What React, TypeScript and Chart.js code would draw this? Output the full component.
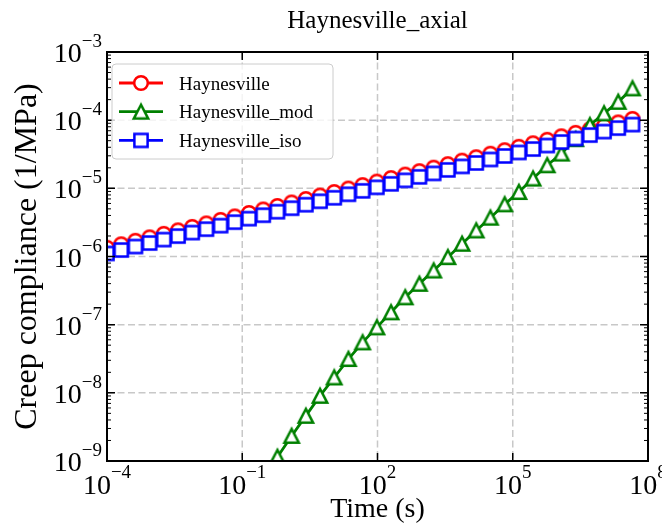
import React, { useEffect, useRef } from 'react';
import { Chart, registerables } from 'chart.js';

Chart.register(...registerables);

// ---------------- data ----------------
const times = [
  1e-4, 2.065e-4, 4.266e-4, 8.81e-4, 1.82e-3, 3.758e-3, 7.762e-3, 1.603e-2, 3.311e-2, 6.839e-2,
  0.1413, 0.2917, 0.6026, 1.245, 2.57, 5.309, 10.96, 22.65, 46.77, 96.6,
  199.5, 412.1, 851.1, 1758, 3631, 7499, 1.549e4, 3.199e4, 6.607e4, 1.365e5,
  2.818e5, 5.821e5, 1.202e6, 2.483e6, 5.129e6, 1.059e7, 2.188e7, 4.519e7,
];

const haynesville = [
  1.343e-6, 1.511e-6, 1.699e-6, 1.911e-6, 2.149e-6, 2.418e-6, 2.72e-6, 3.059e-6, 3.441e-6, 3.871e-6,
  4.355e-6, 4.898e-6, 5.51e-6, 6.198e-6, 6.972e-6, 7.843e-6, 8.823e-6, 9.924e-6, 1.116e-5, 1.256e-5,
  1.413e-5, 1.589e-5, 1.788e-5, 2.011e-5, 2.262e-5, 2.545e-5, 2.862e-5, 3.22e-5, 3.622e-5, 4.074e-5,
  4.581e-5, 5.153e-5, 5.798e-5, 6.521e-5, 7.335e-5, 8.251e-5, 9.281e-5, 1.044e-4,
];

const haynesvilleMod = [
  null, null, null, null, null, null, null, null, null, null,
  null, 5.53e-10, 1.148e-9, 2.333e-9, 4.592e-9, 9.036e-9, 1.679e-8, 3.133e-8, 5.495e-8, 9.12e-8,
  1.517e-7, 2.518e-7, 3.972e-7, 6.223e-7, 9.772e-7, 1.538e-6, 2.41e-6, 3.707e-6, 5.821e-6, 8.831e-6,
  1.39e-5, 2.178e-5, 3.236e-5, 5.25e-5, 8.43e-5, 1.256e-4, 1.858e-4, 2.924e-4,
];

const haynesvilleIso = [
  1.107e-6, 1.245e-6, 1.4e-6, 1.575e-6, 1.771e-6, 1.992e-6, 2.241e-6, 2.521e-6, 2.835e-6, 3.19e-6,
  3.589e-6, 4.036e-6, 4.54e-6, 5.107e-6, 5.745e-6, 6.463e-6, 7.27e-6, 8.177e-6, 9.196e-6, 1.035e-5,
  1.164e-5, 1.309e-5, 1.473e-5, 1.657e-5, 1.864e-5, 2.097e-5, 2.358e-5, 2.653e-5, 2.985e-5, 3.357e-5,
  3.775e-5, 4.246e-5, 4.778e-5, 5.373e-5, 6.044e-5, 6.799e-5, 7.648e-5, 8.603e-5,
];

const seriesNames = ['Haynesville', 'Haynesville_mod', 'Haynesville_iso'];
const seriesColors = ['#ff0000', '#008000', '#0000ff'];
const seriesShapes = ['circle', 'triangle', 'square'];

const xMajorTicks = [1e-4, 1e-1, 1e2, 1e5, 1e8];
const xTickExponents = ['\u22124', '\u22121', '2', '5', '8'];
const yMajorTicks = [1e-9, 1e-8, 1e-7, 1e-6, 1e-5, 1e-4, 1e-3];
const yTickExponents = ['\u22129', '\u22128', '\u22127', '\u22126', '\u22125', '\u22124', '\u22123'];
const yMinorMultipliers = [2, 3, 4, 5, 6, 7, 8, 9];

const chartTitle = 'Haynesville_axial';
const xTitle = 'Time (s)';
const yTitle = 'Creep compliance (1/MPa)';

const FONT = "'Liberation Serif', 'Times New Roman', serif";

// ---------------- markers ----------------
function makeMarker(shape: string, color: string): HTMLCanvasElement {
  const size = 24;
  const c = document.createElement('canvas');
  c.width = size;
  c.height = size;
  const g = c.getContext('2d') as CanvasRenderingContext2D;
  const m = size / 2;
  g.lineWidth = 2.5;
  g.strokeStyle = color;
  g.fillStyle = '#ffffff';
  g.beginPath();
  if (shape === 'circle') {
    g.arc(m, m, 6.8, 0, Math.PI * 2);
  } else if (shape === 'square') {
    g.rect(m - 6.6, m - 6.6, 13.2, 13.2);
  } else {
    g.moveTo(m, m - 7);
    g.lineTo(m - 7.2, m + 6.8);
    g.lineTo(m + 7.2, m + 6.8);
    g.closePath();
  }
  g.fill();
  g.stroke();
  return c;
}

export default function App() {
  const ref = useRef<HTMLCanvasElement | null>(null);

  useEffect(() => {
    document.body.style.margin = '0';
    const canvas = ref.current;
    if (!canvas) return;

    const markers = seriesShapes.map((s, i) => makeMarker(s, seriesColors[i]));
    const allSeries = [haynesville, haynesvilleMod, haynesvilleIso];

    const decor = {
      id: 'decor',
      beforeDatasetsDraw(chart: any) {
        const { ctx, chartArea: a, scales } = chart;
        const xs = scales.x;
        const ys = scales.y;
        ctx.save();
        ctx.strokeStyle = '#c8c8c8';
        ctx.lineWidth = 1.5;
        ctx.setLineDash([7, 3.5]);
        for (const v of xMajorTicks) {
          const px = xs.getPixelForValue(v);
          if (px > a.left + 2 && px < a.right - 2) {
            ctx.beginPath();
            ctx.moveTo(px, a.top);
            ctx.lineTo(px, a.bottom);
            ctx.stroke();
          }
        }
        for (const v of yMajorTicks) {
          const py = ys.getPixelForValue(v);
          if (py > a.top + 2 && py < a.bottom - 2) {
            ctx.beginPath();
            ctx.moveTo(a.left, py);
            ctx.lineTo(a.right, py);
            ctx.stroke();
          }
        }
        ctx.restore();
      },
      afterDatasetsDraw(chart: any) {
        const { ctx, chartArea: a, scales } = chart;
        const xs = scales.x;
        const ys = scales.y;
        ctx.save();
        ctx.setLineDash([]);

        // ticks (inward, all sides)
        ctx.strokeStyle = '#000';
        ctx.lineWidth = 1.5;
        for (const v of xMajorTicks) {
          const px = xs.getPixelForValue(v);
          ctx.beginPath();
          ctx.moveTo(px, a.bottom);
          ctx.lineTo(px, a.bottom - 8);
          ctx.moveTo(px, a.top);
          ctx.lineTo(px, a.top + 8);
          ctx.stroke();
        }
        for (const v of yMajorTicks) {
          const py = ys.getPixelForValue(v);
          ctx.beginPath();
          ctx.moveTo(a.left, py);
          ctx.lineTo(a.left + 8, py);
          ctx.moveTo(a.right, py);
          ctx.lineTo(a.right - 8, py);
          ctx.stroke();
        }
        ctx.lineWidth = 1;
        for (let i = 0; i < yMajorTicks.length - 1; i++) {
          for (const k of yMinorMultipliers) {
            const py = ys.getPixelForValue(yMajorTicks[i] * k);
            ctx.beginPath();
            ctx.moveTo(a.left, py);
            ctx.lineTo(a.left + 4, py);
            ctx.moveTo(a.right, py);
            ctx.lineTo(a.right - 4, py);
            ctx.stroke();
          }
        }

        // frame
        ctx.lineWidth = 2;
        ctx.strokeRect(a.left, a.top, a.right - a.left, a.bottom - a.top);

        // tick labels
        ctx.fillStyle = '#000';
        const bigFont = `28px ${FONT}`;
        const supFont = `19px ${FONT}`;
        ctx.textBaseline = 'alphabetic';
        ctx.textAlign = 'left';
        xMajorTicks.forEach((v, i) => {
          const px = xs.getPixelForValue(v);
          ctx.font = bigFont;
          const w1 = ctx.measureText('10').width;
          ctx.font = supFont;
          const w2 = ctx.measureText(xTickExponents[i]).width;
          const start = px - (w1 + w2) / 2;
          ctx.font = bigFont;
          ctx.fillText('10', start, a.bottom + 33);
          ctx.font = supFont;
          ctx.fillText(xTickExponents[i], start + w1, a.bottom + 17);
        });
        yMajorTicks.forEach((v, i) => {
          const py = ys.getPixelForValue(v);
          ctx.font = bigFont;
          const w1 = ctx.measureText('10').width;
          ctx.font = supFont;
          const w2 = ctx.measureText(yTickExponents[i]).width;
          const end = a.left - 5;
          ctx.font = bigFont;
          ctx.fillText('10', end - w2 - w1, py + 10);
          ctx.font = supFont;
          ctx.fillText(yTickExponents[i], end - w2, py - 5);
        });

        // titles
        const cx = (a.left + a.right) / 2;
        ctx.textAlign = 'center';
        ctx.font = `25px ${FONT}`;
        ctx.fillText(chartTitle, cx, 28);
        ctx.font = `28px ${FONT}`;
        ctx.fillText(xTitle, cx, 517);
        ctx.save();
        ctx.font = `32px ${FONT}`;
        ctx.translate(36, (a.top + a.bottom) / 2);
        ctx.rotate(-Math.PI / 2);
        ctx.fillText(yTitle, 0, 0);
        ctx.restore();

        // legend
        const lx = 112, ly = 64, lw = 221, lh = 95;
        ctx.beginPath();
        if (ctx.roundRect) ctx.roundRect(lx, ly, lw, lh, 4);
        else ctx.rect(lx, ly, lw, lh);
        ctx.fillStyle = 'rgba(255,255,255,0.8)';
        ctx.fill();
        ctx.strokeStyle = '#cccccc';
        ctx.lineWidth = 1;
        ctx.stroke();
        ctx.textAlign = 'left';
        ctx.font = `19px ${FONT}`;
        seriesNames.forEach((name, i) => {
          const ry = 83 + i * 28.7;
          ctx.strokeStyle = seriesColors[i];
          ctx.lineWidth = 2.8;
          ctx.beginPath();
          ctx.moveTo(119, ry);
          ctx.lineTo(163, ry);
          ctx.stroke();
          const mk = markers[i];
          ctx.drawImage(mk, 141 - mk.width / 2, ry - mk.height / 2);
          ctx.fillStyle = '#000';
          ctx.fillText(name, 179, ry + 6.5);
        });
        ctx.restore();
      },
    };

    const datasets = allSeries.map((vals, i) => ({
      label: seriesNames[i],
      data: times.map((t, j) => ({ x: t, y: vals[j] })),
      borderColor: seriesColors[i],
      backgroundColor: '#ffffff',
      borderWidth: 2.8,
      pointStyle: markers[i],
      pointRadius: 7,
      tension: 0,
      spanGaps: false,
      clip: 0,
      order: 3 - i,
    }));

    const chart = new Chart(canvas, {
      type: 'line',
      data: { datasets },
      options: {
        animation: false,
        responsive: false,
        maintainAspectRatio: false,
        events: [],
        layout: { padding: { left: 107, right: 14, top: 52, bottom: 65 } },
        plugins: {
          legend: { display: false },
          title: { display: false },
          tooltip: { enabled: false },
        },
        scales: {
          x: { type: 'logarithmic', min: 1e-4, max: 1e8, display: false },
          y: { type: 'logarithmic', min: 1e-9, max: 1e-3, display: false },
        },
      } as any,
      plugins: [decor],
    });

    return () => chart.destroy();
  }, []);

  return (
    <div style={{ width: 662, height: 526, background: '#fff' }}>
      <canvas ref={ref} width={662} height={526} style={{ display: 'block' }} />
    </div>
  );
}
